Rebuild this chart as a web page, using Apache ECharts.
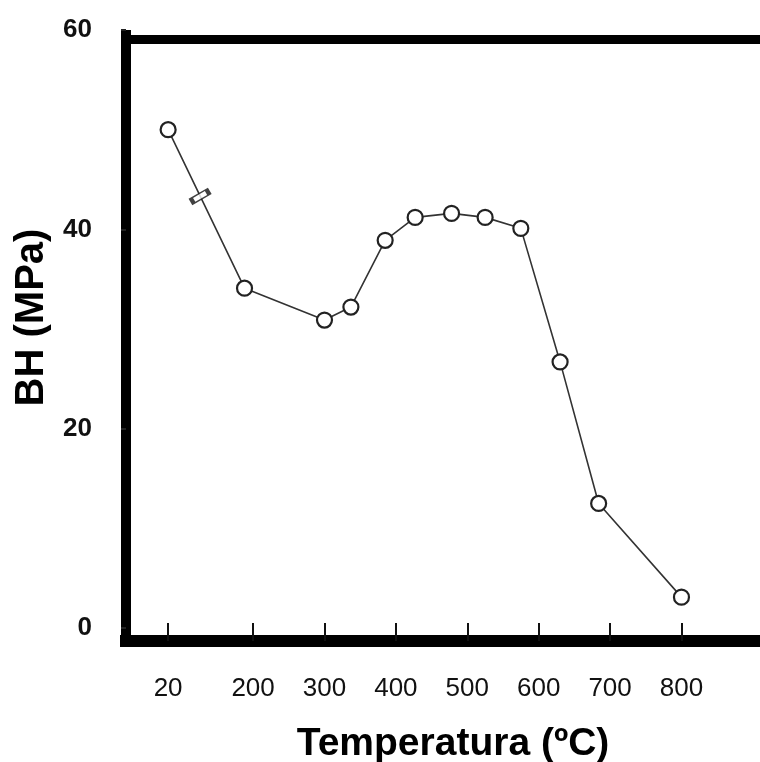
<!DOCTYPE html>
<html><head><meta charset="utf-8">
<script src="https://cdn.jsdelivr.net/npm/echarts@6/dist/echarts.min.js"></script>
<style>html,body{margin:0;padding:0;background:#fff}#c{width:760px;height:762px}</style>
</head><body><div id="c"></div>
<script>
// Data
const temperatures = [20, 188, 300, 337, 385, 427, 478, 525, 575, 630, 684, 800];
const bhValues = [50, 34.1, 30.9, 32.2, 38.9, 41.2, 41.6, 41.2, 40.1, 26.7, 12.5, 3.1];
const xTickLabels = [20, 200, 300, 400, 500, 600, 700, 800];
const yTickLabels = [0, 20, 40, 60];
const breakMark = [[77, 43.3]];

const font = "'Liberation Sans', Arial, sans-serif";
const chart = echarts.init(document.getElementById('c'));
const option = {
  animation: false,
  backgroundColor: '#fff',
  grid: { left: 126, right: 0, top: 30, bottom: 121, containLabel: false, outerBoundsMode: 'none' },
  xAxis: [{
    type: 'value', min: -39, max: 910,
    breaks: [{ start: 55, end: 165, gap: 49 }],
    breakArea: { show: false },
    axisLine: { show: false, onZero: false },
    axisTick: { show: true, inside: true, length: 18, customValues: xTickLabels, lineStyle: { color: '#111', width: 2 } },
    axisLabel: { customValues: xTickLabels, margin: 35, fontSize: 26, color: '#111', fontFamily: font },
    splitLine: { show: false },
    name: 'Temperatura (ºC)', nameLocation: 'middle', nameGap: 84,
    nameTextStyle: { fontSize: 39, fontWeight: 'bold', color: '#000', fontFamily: font, padding: [0, 0, 0, 20] }
  }, {
    type: 'value', position: 'top', offset: -9, min: 0, max: 1,
    axisLine: { show: true, onZero: false, lineStyle: { color: '#000', width: 9, cap: 'square' } },
    axisTick: { show: false }, axisLabel: { show: false }, splitLine: { show: false }
  }, {
    type: 'value', position: 'bottom', offset: 0, min: 0, max: 1,
    axisLine: { show: true, onZero: false, lineStyle: { color: '#000', width: 12, cap: 'square' } },
    axisTick: { show: false }, axisLabel: { show: false }, splitLine: { show: false }
  }],
  yAxis: {
    type: 'value', min: -1.3, max: 60,
    axisLine: { show: true, onZero: false, lineStyle: { color: '#000', width: 10, cap: 'butt' } },
    axisTick: { show: true, length: 5, customValues: yTickLabels, lineStyle: { color: '#222', width: 2 } },
    axisLabel: { customValues: yTickLabels, margin: 34, fontSize: 26, fontWeight: 'bold', color: '#111', fontFamily: font },
    splitLine: { show: false },
    name: 'BH (MPa)', nameLocation: 'middle', nameRotate: 90, nameGap: 74, nameMoveOverlap: false,
    nameTextStyle: { fontSize: 40, fontWeight: 'bold', color: '#000', fontFamily: font, padding: [0, 0, 0, 36] }
  },
  series: [{
    type: 'line', xAxisIndex: 0,
    data: temperatures.map((t, i) => [t, bhValues[i]]),
    symbol: 'circle', symbolSize: 15,
    lineStyle: { color: '#333', width: 1.6 },
    itemStyle: { color: '#fff', borderColor: '#222', borderWidth: 2.2 },
    z: 3
  }, {
    type: 'scatter', xAxisIndex: 0,
    data: breakMark,
    symbol: 'rect', symbolSize: [18, 6], symbolRotate: 30,
    itemStyle: { color: '#fff', borderColor: '#111', borderWidth: 2.5 },
    z: 4
  }]
};
chart.setOption(option);
</script>
</body></html>
